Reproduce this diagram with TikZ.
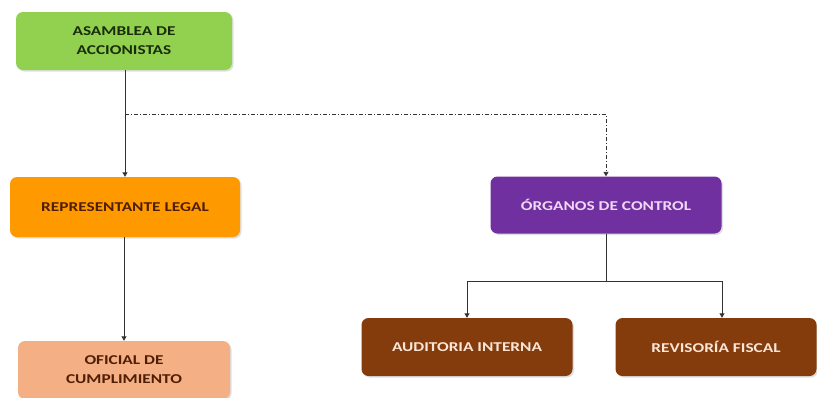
\documentclass[tikz,border=0pt]{standalone}
\usepackage{fontspec}
\setmainfont{Carlito}
\newfontfamily\boxfont[FakeStretch=1.28]{Carlito}
\usetikzlibrary{arrows.meta,shadows}
\definecolor{cgreen}{RGB}{146,208,80}
\definecolor{corange}{RGB}{255,153,0}
\definecolor{csalmon}{RGB}{244,176,132}
\definecolor{cpurple}{RGB}{112,48,160}
\definecolor{cbrown}{RGB}{132,60,12}
\definecolor{ctxtgreen}{RGB}{25,45,10}
\definecolor{ctxtbrown}{RGB}{80,30,5}
\definecolor{ctxtpink}{RGB}{240,215,245}
\definecolor{ctxtpeach}{RGB}{251,229,214}
\definecolor{cline}{RGB}{50,50,50}
\tikzset{
  box/.style={rounded corners=7pt, align=center, font=\boxfont\fontsize{13.5}{19}\selectfont\bfseries,
    drop shadow={opacity=0.25, shadow xshift=1.5pt, shadow yshift=-1.5pt}},
  conn/.style={draw=cline, line width=0.9pt, -{Triangle[width=5pt,length=4.5pt]}},
  dconn/.style={conn, dash pattern=on 4pt off 2pt on 1pt off 2pt}
}
\begin{document}
\begin{tikzpicture}[x=1pt,y=-1pt]
\useasboundingbox (0,0) rectangle (817,397);
\clip (0,0) rectangle (817,397);
\node[box, fill=cgreen, text=ctxtgreen, minimum width=216pt, minimum height=58pt] (asam) at (124,41) {ASAMBLEA DE\\ACCIONISTAS};
\node[box, fill=corange, text=ctxtbrown, minimum width=230pt, minimum height=60pt] (rep) at (125,207) {REPRESENTANTE LEGAL};
\node[box, fill=csalmon, text=ctxtbrown, minimum width=212pt, minimum height=58pt] (ofi) at (124,370) {OFICIAL DE\\CUMPLIMIENTO};
\node[box, fill=cpurple, text=ctxtpink, minimum width=231pt, minimum height=57pt] (org) at (606,205) {ÓRGANOS DE CONTROL};
\node[box, fill=cbrown, text=ctxtpeach, minimum width=211pt, minimum height=58pt] (aud) at (467,347) {AUDITORIA INTERNA};
\node[box, fill=cbrown, text=ctxtpeach, minimum width=201pt, minimum height=58pt] (rev) at (716,347) {REVISORÍA FISCAL};
\coordinate (dj) at (125,114);
\coordinate (bj) at (606,281);
\draw[conn] (asam.south -| rep.north) -- (rep.north);
\draw[conn] (rep.south -| ofi.north) -- (ofi.north);
\draw[dconn] (dj) -- (dj -| org.north) -- (org.north);
\draw[draw=cline, line width=0.9pt] (org.south) -- (bj);
\draw[conn] (bj) -| (aud.north);
\draw[conn] (bj) -| ([xshift=6pt]rev.north);
\end{tikzpicture}
\end{document}
